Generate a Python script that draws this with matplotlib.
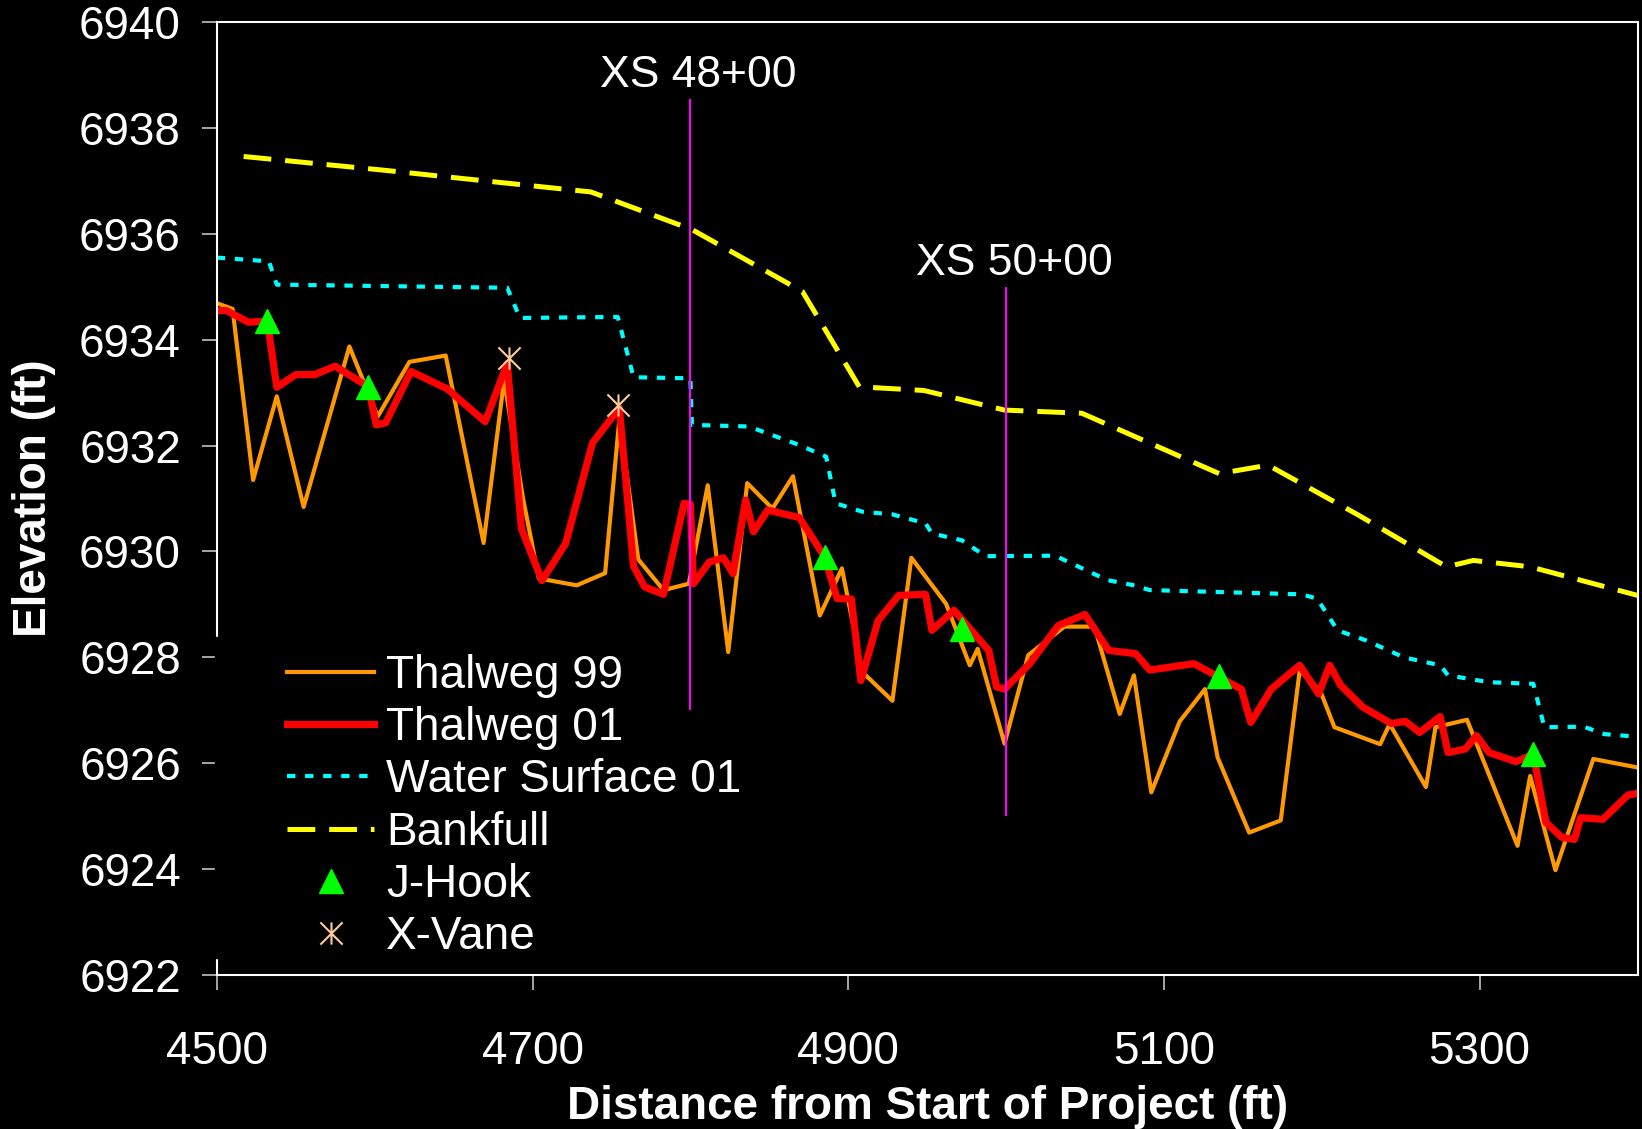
import matplotlib
matplotlib.use('Agg')
import matplotlib.pyplot as plt
from matplotlib.path import Path
from matplotlib.patches import Rectangle

plt.rcParams['font.family'] = ['Liberation Sans', 'DejaVu Sans']
plt.rcParams['lines.scale_dashes'] = False

# 데이터
thal99_x = [4500, 4510, 4523, 4538, 4555, 4584, 4602, 4622, 4645, 4669, 4682, 4694,
            4704, 4728, 4746, 4755, 4767, 4783, 4799, 4811, 4824, 4836, 4852, 4865,
            4882, 4896, 4909, 4928, 4940, 4962, 4977, 4982, 4999, 5014, 5037, 5056,
            5072, 5081, 5092, 5110, 5126, 5134, 5154, 5174, 5186, 5199, 5208, 5237,
            5243, 5266, 5272, 5292, 5324, 5332, 5348, 5372, 5400]
thal99_y = [6934.69, 6934.58, 6931.35, 6932.93, 6930.84, 6933.87, 6932.55, 6933.58,
            6933.70, 6930.16, 6933.24, 6931.00, 6929.49, 6929.36, 6929.59, 6932.50,
            6929.85, 6929.27, 6929.39, 6931.25, 6928.10, 6931.29, 6930.81, 6931.42,
            6928.79, 6929.68, 6927.72, 6927.18, 6929.88, 6929.01, 6927.85, 6928.16,
            6926.37, 6928.04, 6928.58, 6928.58, 6926.93, 6927.66, 6925.45, 6926.79,
            6927.40, 6926.11, 6924.69, 6924.92, 6927.75, 6927.37, 6926.68, 6926.36,
            6926.74, 6925.55, 6926.68, 6926.82, 6924.44, 6925.76, 6923.98, 6926.08,
            6925.92]

thal01_x = [4500, 4506, 4520, 4532, 4538, 4550, 4562, 4575, 4596, 4601, 4607, 4623,
            4646, 4670, 4684, 4693, 4706, 4721, 4738, 4755, 4764, 4771, 4783, 4796,
            4800, 4802, 4812, 4821, 4827, 4835, 4840, 4849, 4869, 4885, 4893, 4902,
            4908, 4919, 4932, 4949, 4953, 4967, 4989, 4994, 4999, 5015, 5033, 5050,
            5065, 5082, 5091, 5119, 5149, 5155, 5168, 5186, 5198, 5205, 5212, 5226,
            5244, 5253, 5262, 5275, 5280, 5291, 5298, 5306, 5323, 5334, 5342, 5352,
            5360, 5364, 5378, 5394, 5400]
thal01_y = [6934.55, 6934.55, 6934.33, 6934.35, 6933.10, 6933.34, 6933.34, 6933.50,
            6933.11, 6932.39, 6932.43, 6933.40, 6933.07, 6932.45, 6933.55, 6930.43,
            6929.45, 6930.15, 6932.05, 6932.71, 6929.72, 6929.33, 6929.19, 6930.91,
            6930.89, 6929.39, 6929.80, 6929.88, 6929.58, 6930.97, 6930.37, 6930.78,
            6930.64, 6929.90, 6929.11, 6929.10, 6927.56, 6928.70, 6929.17, 6929.19,
            6928.51, 6928.89, 6928.13, 6927.44, 6927.40, 6927.88, 6928.60, 6928.81,
            6928.13, 6928.07, 6927.76, 6927.88, 6927.40, 6926.77, 6927.40, 6927.85,
            6927.31, 6927.85, 6927.47, 6927.06, 6926.75, 6926.79, 6926.58, 6926.88,
            6926.20, 6926.27, 6926.52, 6926.20, 6926.03, 6926.17, 6924.88, 6924.60,
            6924.56, 6924.97, 6924.94, 6925.40, 6925.43]

ws_x = [4500, 4533, 4538, 4684, 4692, 4754, 4764, 4800, 4801, 4837, 4869, 4886,
        4892, 4909, 4928, 4949, 4953, 4972, 4987, 5031, 5064, 5081, 5091, 5187,
        5197, 5210, 5228, 5252, 5275, 5280, 5306, 5334, 5341, 5366, 5379, 5400]
ws_y = [6935.55, 6935.48, 6935.04, 6934.98, 6934.41, 6934.43, 6933.29, 6933.27,
        6932.39, 6932.36, 6932.01, 6931.79, 6930.91, 6930.75, 6930.70, 6930.53,
        6930.34, 6930.21, 6929.91, 6929.92, 6929.46, 6929.36, 6929.27, 6929.19,
        6929.11, 6928.51, 6928.32, 6928.00, 6927.85, 6927.66, 6927.53, 6927.50,
        6926.68, 6926.69, 6926.55, 6926.50]

bank_x = [4517, 4606, 4676, 4737, 4801, 4871, 4907, 4948, 4999, 5048, 5135, 5166,
          5223, 5279, 5296, 5332, 5400]
bank_y = [6937.46, 6937.20, 6936.98, 6936.79, 6936.08, 6934.91, 6933.11, 6933.04,
          6932.67, 6932.61, 6931.47, 6931.63, 6930.69, 6929.71, 6929.83, 6929.71,
          6929.17]

jhook_x = [4532, 4596, 4885, 4972, 5135, 5334]
jhook_y = [6934.35, 6933.11, 6929.90, 6928.54, 6927.65, 6926.17]

xvane_x = [4685, 4754]
xvane_y = [6933.65, 6932.76]

# 단면 위치 (XS)
xs_x = [4800, 5000]
xs_bottom = [6927.0, 6925.0]
xs_top = [6938.55, 6935.0]
xs_labels = ['XS 48+00', 'XS 50+00']
xs_label_y = [6938.77, 6935.22]

# 엑셀식 별표 마커
asterisk = Path([(0, -1), (0, 1), (-1, -1), (1, 1), (-1, 1), (1, -1)],
                [Path.MOVETO, Path.LINETO, Path.MOVETO, Path.LINETO, Path.MOVETO, Path.LINETO])

fig = plt.figure(figsize=(16.42, 11.29), dpi=100, facecolor='black')
ax = fig.add_axes([216.8 / 1642, 154 / 1129, 1420.7 / 1642, 953 / 1129])
ax.set_facecolor('black')

ax.plot(thal99_x, thal99_y, color='#FF9900', lw=3, label='Thalweg 99')
ax.plot(thal01_x, thal01_y, color='#FF0000', lw=5.2, label='Thalweg 01')
ax.plot(ws_x, ws_y, color='#00FFFF', lw=3, dashes=(6, 7), label='Water Surface 01')
ax.plot(bank_x, bank_y, color='#FFFF00', lw=3.6, dashes=(20, 10), label='Bankfull')
ax.plot(jhook_x, jhook_y, ls='none', marker='^', ms=17, color='#00FF00', label='J-Hook')
ax.plot(xvane_x, xvane_y, ls='none', marker=asterisk, ms=16, mew=1.5,
        color='#FFCC99', label='X-Vane')

# 단면선과 라벨
ax.vlines(xs_x, xs_bottom, xs_top, color='#FF00FF', lw=1.5)
for x, y, s in zip(xs_x, xs_label_y, xs_labels):
    ax.text(x + 5, y, s, color='white', fontsize=32, ha='center', va='baseline')

ax.set_xlim(4500, 5400)
ax.set_ylim(6922, 6940)
ax.set_xticks(range(4500, 5400, 200))
ax.set_yticks(range(6922, 6941, 2))

for sp in ax.spines.values():
    sp.set_color('white')
    sp.set_linewidth(1.5)
ax.tick_params(color='#A6A6A6', labelcolor='white', labelsize=33, length=10.8, width=1.4)
ax.tick_params(axis='y', pad=15)
ax.tick_params(axis='x', pad=29)

ax.set_xlabel('Distance from Start of Project (ft)', color='white', fontsize=33, fontweight='bold')
ax.set_ylabel('Elevation (ft)', color='white', fontsize=33, fontweight='bold')
ax.xaxis.set_label_coords(0.5, -0.115)
ax.yaxis.set_label_coords(-0.113, 0.5)

leg = ax.legend(loc='upper left', bbox_to_anchor=(0.0496, 0.337), frameon=False,
                fontsize=33, labelcolor='white', handlelength=1.9, handletextpad=0.25,
                labelspacing=0.18, borderpad=0, borderaxespad=0, numpoints=1)

# 원본에서 범례 상자가 y축 선 일부를 가림
ax.add_patch(Rectangle((-0.0015, 0.0178), 0.003, 0.337, transform=ax.transAxes,
                       color='black', zorder=2.6, clip_on=False))

fig.savefig('out.png', dpi=100, facecolor='black')
